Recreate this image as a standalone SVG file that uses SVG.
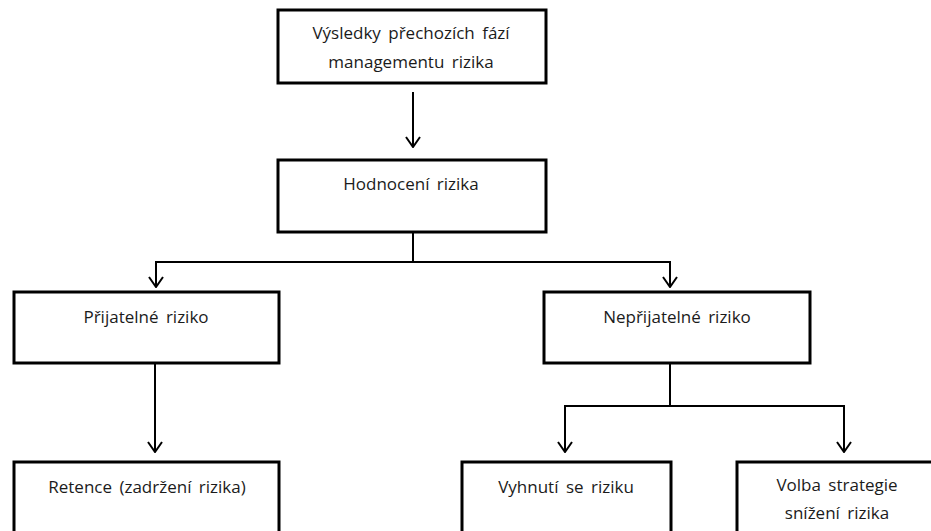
<svg xmlns="http://www.w3.org/2000/svg" width="931" height="531" viewBox="0 0 931 531">
<style>
.box{fill:#fff;stroke:#000;stroke-width:3}
.t{font-family:"Open Sans","Liberation Sans",sans-serif;font-size:17px;fill:#1b1b1b;text-anchor:middle;word-spacing:3px}
.c{fill:none;stroke:#000;stroke-width:2}
</style>
<defs>
<marker id="ah" viewBox="0 0 12 16" refX="11" refY="8" markerWidth="12" markerHeight="16" markerUnits="userSpaceOnUse" orient="auto">
<polyline points="1,1 11,8 1,15" fill="none" stroke="#000" stroke-width="2"/>
</marker>
</defs>
<rect width="931" height="531" fill="#fff"/>
<g id="connectors">
<path class="c" d="M413,92 V147" marker-end="url(#ah)"/>
<path class="c" d="M413,233 V262 H156 V287" marker-end="url(#ah)"/>
<path class="c" d="M413,262 H670 V287" marker-end="url(#ah)"/>
<path class="c" d="M155,364 V452" marker-end="url(#ah)"/>
<path class="c" d="M670,364 V406 H565 V452" marker-end="url(#ah)"/>
<path class="c" d="M670,406 H844 V452" marker-end="url(#ah)"/>
</g>
<g id="n1"><rect class="box" x="278" y="10" width="268" height="73"/>
<text class="t" x="411" y="39">Výsledky přechozích fází</text>
<text class="t" x="411" y="68">managementu rizika</text></g>
<g id="n2"><rect class="box" x="278" y="160" width="268" height="72"/>
<text class="t" x="411" y="190">Hodnocení rizika</text></g>
<g id="n3"><rect class="box" x="14" y="292" width="265" height="71"/>
<text class="t" x="146" y="323">Přijatelné riziko</text></g>
<g id="n4"><rect class="box" x="544" y="292" width="266" height="71"/>
<text class="t" x="677" y="323">Nepřijatelné riziko</text></g>
<g id="n5"><rect class="box" x="14" y="462" width="265" height="80"/>
<text class="t" x="147" y="493">Retence (zadržení rizika)</text></g>
<g id="n6"><rect class="box" x="462" y="462" width="209" height="80"/>
<text class="t" x="566" y="493">Vyhnutí se riziku</text></g>
<g id="n7"><rect class="box" x="737" y="462" width="210" height="80"/>
<text class="t" x="837" y="491">Volba strategie</text>
<text class="t" x="837" y="519">snížení rizika</text></g>
</svg>
